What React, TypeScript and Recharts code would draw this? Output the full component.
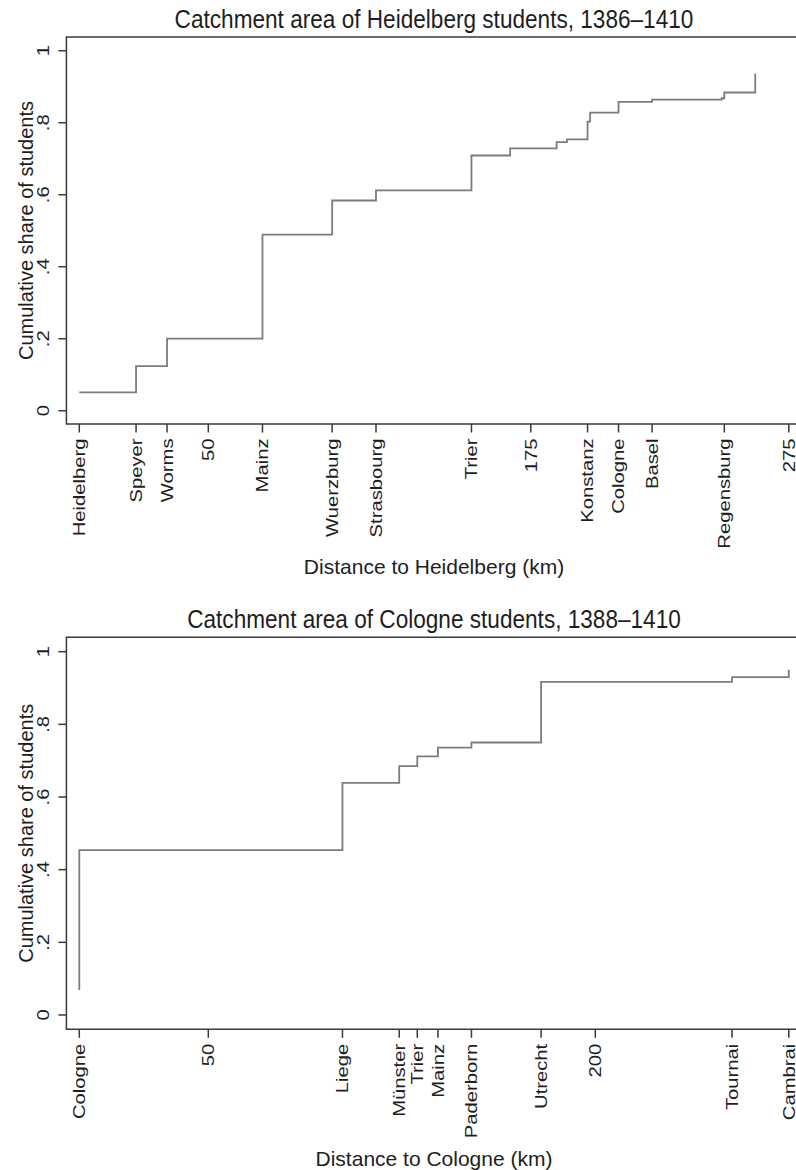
import React from 'react';
import { LineChart, Line, XAxis, YAxis, ReferenceArea } from 'recharts';

// ---- Data: Heidelberg panel ----
const heidelbergKm = [0, 22, 34, 71, 98, 115, 152, 167, 185, 189, 197, 198, 209, 222, 249, 250, 262];
const heidelbergShare = [0.051, 0.124, 0.2, 0.489, 0.584, 0.612, 0.709, 0.729, 0.746, 0.754, 0.803, 0.828, 0.858, 0.864, 0.868, 0.884, 0.937];
const heidelbergTickKm = [0, 22, 34, 50, 71, 98, 115, 152, 175, 197, 209, 222, 250, 275];
const heidelbergTickLabels = ['Heidelberg', 'Speyer', 'Worms', '50', 'Mainz', 'Wuerzburg', 'Strasbourg', 'Trier', '175', 'Konstanz', 'Cologne', 'Basel', 'Regensburg', '275'];

// ---- Data: Cologne panel ----
const cologneKm = [0, 0, 102, 124, 131, 139, 152, 179, 253, 275];
const cologneShare = [0.069, 0.454, 0.639, 0.685, 0.712, 0.736, 0.75, 0.917, 0.93, 0.95];
const cologneTickKm = [0, 50, 102, 124, 131, 139, 152, 179, 200, 253, 275];
const cologneTickLabels = ['Cologne', '50', 'Liege', 'Münster', 'Trier', 'Mainz', 'Paderborn', 'Utrecht', '200', 'Tournai', 'Cambrai'];

// ---- Shared axis ----
const shareTicks = [0, 0.2, 0.4, 0.6, 0.8, 1];
const shareTickLabels = ['0', '.2', '.4', '.6', '.8', '1'];
const kmDomain = [-5, 280];

const FONT = '"Liberation Sans", Arial, Helvetica, sans-serif';
const TEXT = '#1e1e1e';
const FRAME = '#3a3a3a';
const LINE = '#7c7c7c';
const TICK_FS = 17;
const TICK_STRETCH = 1.19;

const XTick = (props: any) => {
  const { x, y, payload, tickKm, tickLabels } = props;
  const i = tickKm.indexOf(payload.value);
  const label = i >= 0 ? tickLabels[i] : String(payload.value);
  return (
    <g transform={`translate(${x},${y})`}>
      <text
        transform={`scale(1,${TICK_STRETCH}) rotate(-90)`}
        textAnchor="end"
        dy="0.34em"
        fontSize={TICK_FS}
        fontFamily={FONT}
        fill={TEXT}
      >
        {label}
      </text>
    </g>
  );
};

const YTick = (props: any) => {
  const { y, payload } = props;
  const i = shareTicks.indexOf(payload.value);
  const label = i >= 0 ? shareTickLabels[i] : String(payload.value);
  return (
    <g transform={`translate(43,${y})`}>
      <text
        transform={`scale(1,${TICK_STRETCH}) rotate(-90)`}
        textAnchor="middle"
        dy="0.36em"
        fontSize={TICK_FS}
        fontFamily={FONT}
        fill={TEXT}
      >
        {label}
      </text>
    </g>
  );
};

function Panel(props: {
  km: number[];
  share: number[];
  tickKm: number[];
  tickLabels: string[];
  height: number;
  marginTop: number;
  xAxisHeight: number;
  yDomain: number[];
}) {
  const { km, share, tickKm, tickLabels, height, marginTop, xAxisHeight, yDomain } = props;
  const data = km.map((k, i) => ({ km: k, share: share[i] }));
  return (
    <LineChart
      width={810}
      height={height}
      data={data}
      margin={{ top: marginTop, right: 8.3, bottom: 0, left: 0 }}
    >
      <XAxis
        type="number"
        dataKey="km"
        domain={kmDomain}
        allowDataOverflow
        ticks={tickKm}
        interval={0}
        height={xAxisHeight}
        axisLine={false}
        tickSize={8.5}
        tickMargin={6}
        tickLine={{ stroke: FRAME, strokeWidth: 1.5 }}
        tick={<XTick tickKm={tickKm} tickLabels={tickLabels} />}
      />
      <YAxis
        type="number"
        domain={yDomain}
        allowDataOverflow
        ticks={shareTicks}
        interval={0}
        width={66.4}
        axisLine={false}
        tickSize={8}
        tickLine={{ stroke: FRAME, strokeWidth: 1.5 }}
        tick={<YTick />}
      />
      <ReferenceArea
        x1={kmDomain[0]}
        x2={kmDomain[1]}
        y1={yDomain[0]}
        y2={yDomain[1]}
        fill="none"
        fillOpacity={0}
        stroke={FRAME}
        strokeWidth={1.5}
      />
      <Line
        type="stepAfter"
        dataKey="share"
        stroke={LINE}
        strokeWidth={1.8}
        dot={false}
        activeDot={false}
        isAnimationActive={false}
      />
    </LineChart>
  );
}

const textStyle = { fontFamily: FONT, fill: TEXT } as const;

export default function App() {
  return (
    <div style={{ position: 'relative', width: 796, height: 1170, overflow: 'hidden', background: '#fff' }}>
      <style>{`html,body{margin:0;padding:0;overflow:hidden;background:#fff}`}</style>
      <div style={{ position: 'absolute', left: 0, top: 0 }}>
        <Panel
          km={heidelbergKm}
          share={heidelbergShare}
          tickKm={heidelbergTickKm}
          tickLabels={heidelbergTickLabels}
          height={590}
          marginTop={37}
          xAxisHeight={166}
          yDomain={[-0.0369, 1.0381]}
        />
      </div>
      <div style={{ position: 'absolute', left: 0, top: 590 }}>
        <Panel
          km={cologneKm}
          share={cologneShare}
          tickKm={cologneTickKm}
          tickLabels={cologneTickLabels}
          height={580}
          marginTop={47.3}
          xAxisHeight={140.7}
          yDomain={[-0.0394, 1.0396]}
        />
      </div>
      <svg
        width={796}
        height={1170}
        style={{ position: 'absolute', left: 0, top: 0, pointerEvents: 'none' }}
      >
        <text transform="translate(434,28.3) scale(1,1.1)" textAnchor="middle" fontSize={22.6} {...textStyle}>
          Catchment area of Heidelberg students, 1386–1410
        </text>
        <text transform="translate(33,230.5) rotate(-90)" textAnchor="middle" fontSize={20} {...textStyle}>
          Cumulative share of students
        </text>
        <text x={434} y={574} textAnchor="middle" fontSize={21} {...textStyle}>
          Distance to Heidelberg (km)
        </text>
        <text transform="translate(434,628.3) scale(1,1.1)" textAnchor="middle" fontSize={22.6} {...textStyle}>
          Catchment area of Cologne students, 1388–1410
        </text>
        <text transform="translate(33,833.3) rotate(-90)" textAnchor="middle" fontSize={20} {...textStyle}>
          Cumulative share of students
        </text>
        <text x={434} y={1165.7} textAnchor="middle" fontSize={21} {...textStyle}>
          Distance to Cologne (km)
        </text>
      </svg>
    </div>
  );
}
